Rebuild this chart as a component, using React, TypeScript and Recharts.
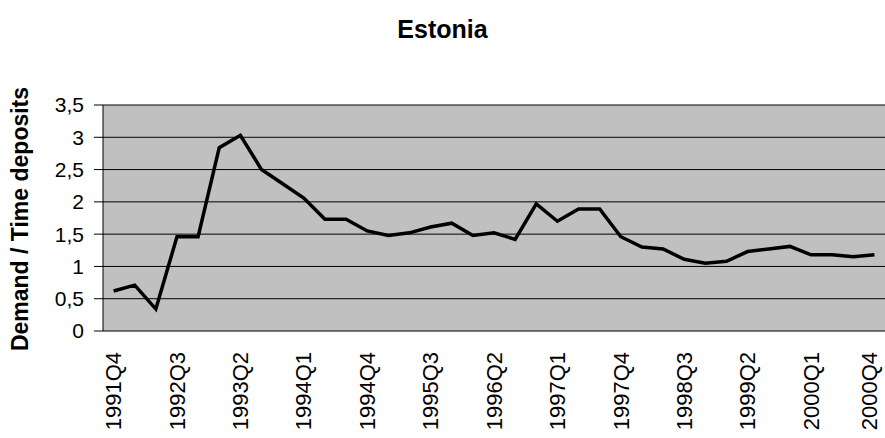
import React from 'react';
import { LineChart, Line, XAxis, YAxis, CartesianGrid } from 'recharts';

// quarters 1991Q4 .. 2000Q4
const quarters = [
  '1991Q4', '1992Q1', '1992Q2', '1992Q3', '1992Q4', '1993Q1', '1993Q2', '1993Q3', '1993Q4',
  '1994Q1', '1994Q2', '1994Q3', '1994Q4', '1995Q1', '1995Q2', '1995Q3', '1995Q4',
  '1996Q1', '1996Q2', '1996Q3', '1996Q4', '1997Q1', '1997Q2', '1997Q3', '1997Q4',
  '1998Q1', '1998Q2', '1998Q3', '1998Q4', '1999Q1', '1999Q2', '1999Q3', '1999Q4',
  '2000Q1', '2000Q2', '2000Q3', '2000Q4'
];

const ratio = [
  0.62, 0.71, 0.34, 1.46, 1.46, 2.84, 3.03, 2.5, 2.28, 2.06, 1.73, 1.73, 1.55,
  1.48, 1.52, 1.61, 1.67, 1.48, 1.52, 1.42, 1.97, 1.7, 1.89, 1.89, 1.46,
  1.3, 1.27, 1.11, 1.05, 1.08, 1.23, 1.27, 1.31, 1.18, 1.18, 1.15, 1.18
];

const yTicks = [0, 0.5, 1, 1.5, 2, 2.5, 3, 3.5];
const labelEvery = 3;

const data = quarters.map((q, i) => ({ q, x: i + 0.5, v: ratio[i] }));
const bandTicks = quarters.map((_, i) => i).concat(quarters.length);
const labelTicks = quarters.map((_, i) => i).filter((i) => i % labelEvery === 0).map((i) => i + 0.5);

const font = '"Liberation Sans", Arial, sans-serif';

const QuarterTick = (props: any) => {
  const { x, y, payload } = props;
  const name = quarters[Math.floor(payload.value)];
  // keep the last label inside the picture, like Excel does
  const tx = Math.min(x, 869);
  return (
    <text
      x={0}
      y={0}
      transform={`translate(${tx},${y + 13}) rotate(-90)`}
      textAnchor="end"
      dy="0.35em"
      fontSize={22}
      fontFamily={font}
      fill="#000"
    >
      {name}
    </text>
  );
};

export default function App() {
  return (
    <div style={{ position: 'absolute', left: 0, top: 0, width: 885, height: 438, background: '#fff', fontFamily: font, overflow: 'hidden' }}>
      <div
        style={{
          position: 'absolute', left: 0, top: 15, width: 885, textAlign: 'center',
          fontSize: 25, fontWeight: 'bold', color: '#000'
        }}
      >
        Estonia
      </div>
      <div
        style={{
          position: 'absolute', left: 20, top: 219, transform: 'translate(-50%, -50%) rotate(-90deg)',
          whiteSpace: 'nowrap', fontSize: 23, fontWeight: 'bold', color: '#000'
        }}
      >
        Demand / Time deposits
      </div>
      <LineChart
        width={885}
        height={438}
        data={data}
        margin={{ top: 105, right: 0, bottom: 0, left: 0 }}
        style={{ position: 'absolute', left: 0, top: 0 }}
      >
        <CartesianGrid
          xAxisId="t"
          vertical={false}
          fill="#c0c0c0"
          fillOpacity={1}
          stroke="#000"
          strokeOpacity={1}
        />
        <XAxis
          xAxisId="t"
          type="number"
          dataKey="x"
          domain={[0, quarters.length]}
          ticks={bandTicks}
          tick={false}
          tickSize={7}
          height={0}
          axisLine={{ stroke: '#000' }}
          tickLine={{ stroke: '#000' }}
        />
        <XAxis
          xAxisId="l"
          type="number"
          dataKey="x"
          domain={[0, quarters.length]}
          ticks={labelTicks}
          interval={0}
          tick={<QuarterTick />}
          tickLine={false}
          axisLine={false}
          height={107}
        />
        <YAxis
          type="number"
          domain={[0, 3.5]}
          ticks={yTicks}
          interval={0}
          width={103}
          tickSize={9}
          tickMargin={10}
          tickFormatter={(v: number) => String(v).replace('.', ',')}
          tick={{ fontSize: 21, fill: '#000', fontFamily: font }}
          axisLine={{ stroke: '#000' }}
          tickLine={{ stroke: '#000' }}
        />
        <Line
          xAxisId="t"
          type="linear"
          dataKey="v"
          stroke="#000"
          strokeWidth={3.5}
          dot={false}
          isAnimationActive={false}
        />
      </LineChart>
    </div>
  );
}
